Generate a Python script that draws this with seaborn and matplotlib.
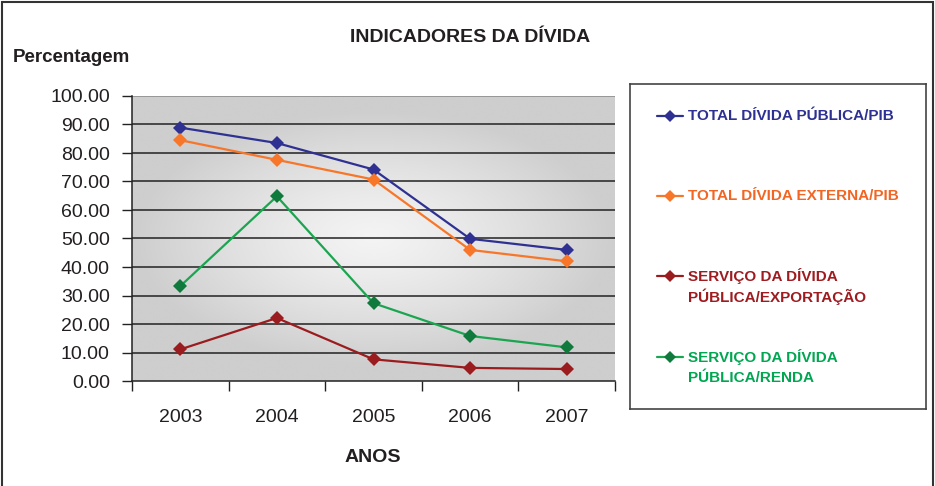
import numpy as np
import pandas as pd
import matplotlib
matplotlib.use("Agg")
import matplotlib.pyplot as plt
from matplotlib.lines import Line2D
from matplotlib.patches import Rectangle
import seaborn as sns

# dados
anos = ["2003", "2004", "2005", "2006", "2007"]
divida_publica_pib = [88.9, 83.5, 74.2, 49.9, 46.0]
divida_externa_pib = [84.5, 77.6, 70.7, 46.0, 42.0]
servico_exportacao = [11.1, 22.1, 7.6, 4.6, 4.2]
servico_renda = [33.3, 64.8, 27.3, 15.8, 11.8]

series = ["TOTAL DÍVIDA PÚBLICA/PIB", "TOTAL DÍVIDA EXTERNA/PIB",
          "SERVIÇO DA DÍVIDA\nPÚBLICA/EXPORTAÇÃO", "SERVIÇO DA DÍVIDA\nPÚBLICA/RENDA"]
valores = [divida_publica_pib, divida_externa_pib, servico_exportacao, servico_renda]
cores_linha = ["#2E3192", "#F7762A", "#9B1C1F", "#1BA550"]
cores_marcador = ["#2E3192", "#F7762A", "#9B1C1F", "#0F7A3C"]
cores_texto = ["#2E3192", "#F26522", "#9E1B20", "#00A651"]

sns.set_style("white")
plt.rcParams["font.family"] = ["Liberation Sans", "DejaVu Sans"]

df = pd.DataFrame({
    "ano": anos * len(series),
    "valor": np.concatenate(valores),
    "serie": np.repeat(series, len(anos)),
})

fig = plt.figure(figsize=(9.35, 4.86), dpi=100)
ax = fig.add_axes([132 / 935, 1 - 381 / 486, 483 / 935, 285 / 486])

# fundo em gradiente radial
gx, gy = np.meshgrid(np.linspace(-1, 1, 300), np.linspace(-1, 1, 200))
r = np.clip(np.sqrt((gx / 1.0) ** 2 + (gy / 0.9) ** 2), 0, 1)
grad = 0.953 - (0.953 - 0.805) * r ** 1.3
ax.imshow(grad, cmap="gray", vmin=0, vmax=1, extent=[0, 1, 0, 1],
          transform=ax.transAxes, aspect="auto", zorder=0, interpolation="bicubic")

sns.lineplot(data=df, x="ano", y="valor", hue="serie", palette=dict(zip(series, cores_linha)),
             marker="D", markersize=7, linewidth=1.6, markeredgewidth=0,
             legend=False, sort=False, ax=ax, zorder=3)
for ln, mc in zip(ax.lines, cores_marcador):
    ln.set_markerfacecolor(mc)
    ln.set_markeredgecolor(mc)

ax.set_xlim(-0.5, len(anos) - 0.5)
ax.set_ylim(0, 100)
ax.set_yticks(np.arange(0, 101, 10))
ax.set_yticklabels([f"{v:.2f}" for v in np.arange(0, 101, 10)])
for v in np.arange(10, 101, 10):
    ax.axhline(v, color="#222222" if v < 100 else "#888888", lw=1.1, zorder=1)
ax.set_xticks(range(len(anos)))
ax.set_xticks(np.arange(-0.5, len(anos), 1.0), minor=True)
ax.tick_params(axis="x", which="major", length=0, pad=20, labelsize=14, labelcolor="#231F20")
ax.tick_params(axis="x", which="minor", length=7, width=1, color="#222222", direction="out", bottom=True)
ax.tick_params(axis="y", length=7, width=1, color="#222222", direction="out", left=True,
               pad=9, labelsize=14, labelcolor="#231F20")
ax.set_xlabel("")
ax.set_ylabel("")
for s in ["top", "right"]:
    ax.spines[s].set_visible(False)
for s in ["left", "bottom"]:
    ax.spines[s].set_color("#222222")
    ax.spines[s].set_linewidth(1.1)
    ax.spines[s].set_zorder(2)

fig.text(470 / 935, 1 - 38 / 486, "INDICADORES DA DÍVIDA", ha="center", va="center",
         fontsize=14, fontweight="bold", color="#231F20")
fig.text(13 / 935, 1 - 58 / 486, "Percentagem", ha="left", va="center",
         fontsize=13.5, fontweight="bold", color="#231F20")
fig.text(373 / 935, 1 - 457 / 486, "ANOS", ha="center", va="center",
         fontsize=14, fontweight="bold", color="#231F20")

# legenda
lax = fig.add_axes([630 / 935, 1 - 409 / 486, 296 / 935, 325 / 486])
lax.set_xlim(0, 1)
lax.set_ylim(0, 1)
lax.set_xticks([])
lax.set_yticks([])
for s in lax.spines.values():
    s.set_color("#444444")
    s.set_linewidth(1.2)
linhas_y = [116, 196, 276, 357]
for nome, cl, cm, ct, py in zip(series, cores_linha, cores_marcador, cores_texto, linhas_y):
    y = (409 - py) / 325
    lax.add_line(Line2D([0.091, 0.179], [y, y], color=cl, lw=1.6))
    lax.add_line(Line2D([0.135], [y], marker="D", ms=6, color=cm, mew=0))
    for i, parte in enumerate(nome.split("\n")):
        lax.text(0.196, y - i * 21 / 325, parte, ha="left", va="center",
                 fontsize=11, fontweight="bold", color=ct)

fig.patches.append(Rectangle((2 / 935, -0.01), 931 / 935, 1 - 2 / 486 + 0.01,
                             transform=fig.transFigure, fill=False, ec="#333333", lw=1.5))

fig.savefig("out.png", dpi=100)
